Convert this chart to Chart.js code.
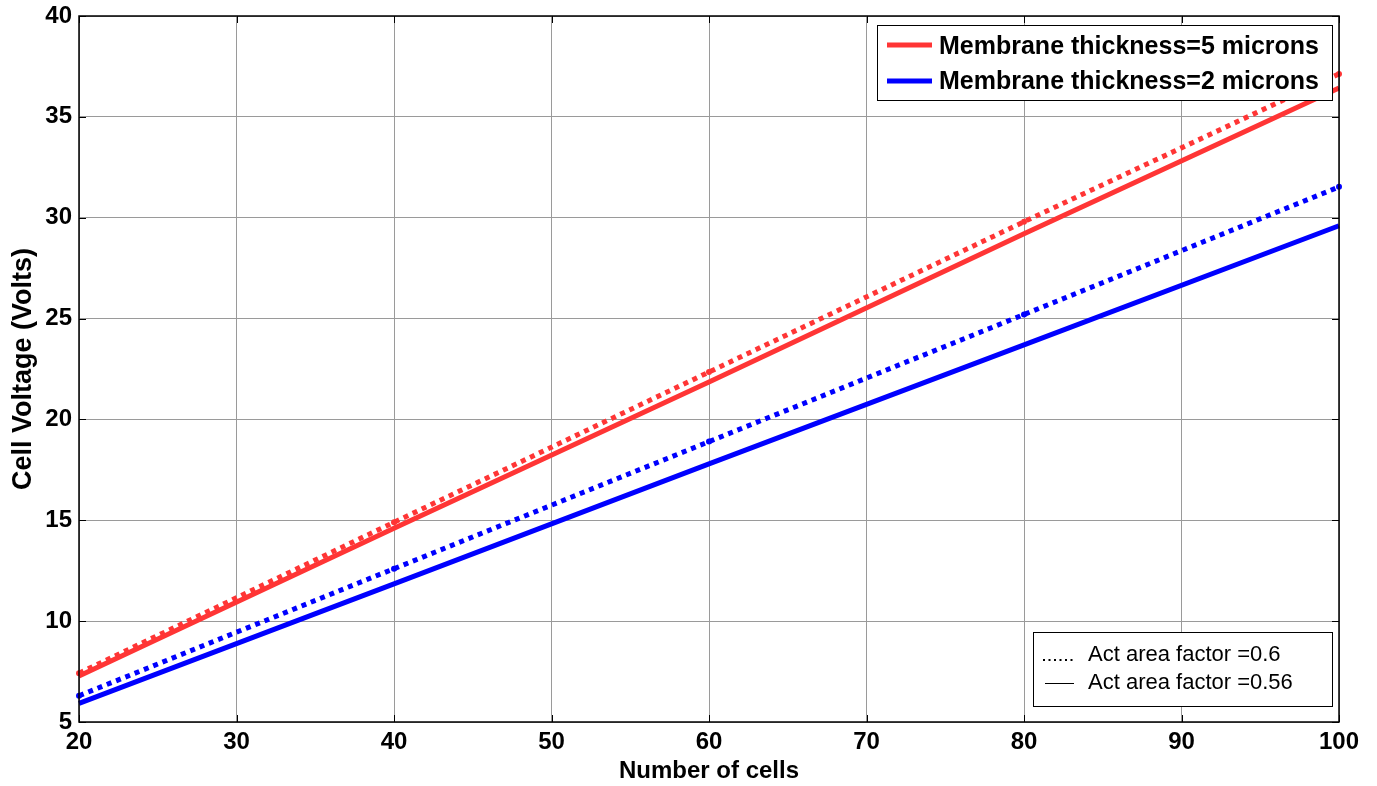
<!DOCTYPE html>
<html>
<head>
  <meta charset="UTF-8">
  <title>Cell Voltage vs Number of cells</title>
  <script src="https://cdn.jsdelivr.net/npm/chart.js"></script>
  <style>
    body {
      margin: 0;
      background: #ffffff;
    }
    #wrap {
      width: 1377px;
      height: 786px;
    }
  </style>
</head>
<body>
  <div id="wrap"><canvas id="voltageChart" width="1377" height="786"></canvas></div>

  <script>
    // number of cells in the stack
    const cells = [20, 40, 60, 80, 100];

    // stack voltage (V) per membrane thickness and active area factor
    const thick5Area060 = [7.42, 14.9, 22.35, 29.8, 37.13];
    const thick5Area056 = [7.28, 14.6, 21.86, 29.2, 36.43];
    const thick2Area060 = [6.3, 12.6, 18.9, 25.2, 31.53];
    const thick2Area056 = [5.92, 11.85, 17.8, 23.7, 29.6];

    const xTicks = [20, 30, 40, 50, 60, 70, 80, 90, 100];
    const yTicks = [5, 10, 15, 20, 25, 30, 35, 40];

    const thicknessLabels = ['Membrane thickness=5 microns', 'Membrane thickness=2 microns'];
    const areaLabels = ['Act area factor =0.6', 'Act area factor =0.56'];

    const RED = '#ff3535';
    const BLUE = '#0000ff';
    const FONT = "'Liberation Sans', Arial, sans-serif";

    function pts(ys) {
      return cells.map((x, i) => ({ x: x, y: ys[i] }));
    }

    function series(ys, color, dotted) {
      return {
        data: pts(ys),
        borderColor: color,
        backgroundColor: color,
        borderWidth: 5,
        borderDash: dotted ? [5, 5] : [],
        borderCapStyle: 'butt',
        pointRadius: dotted ? 3 : 0,
        pointBorderWidth: 0,
        tension: 0,
        clip: false
      };
    }

    // frame, inward ticks and the two legend boxes
    const decorations = {
      id: 'decorations',
      afterDraw(chart) {
        const { ctx, chartArea: a, scales } = chart;
        ctx.save();

        // inward tick marks on all four sides
        ctx.strokeStyle = '#000';
        ctx.lineWidth = 1;
        ctx.beginPath();
        xTicks.forEach(v => {
          const x = Math.round(scales.x.getPixelForValue(v)) + 0.5;
          ctx.moveTo(x, a.bottom); ctx.lineTo(x, a.bottom - 7);
          ctx.moveTo(x, a.top); ctx.lineTo(x, a.top + 7);
        });
        yTicks.forEach(v => {
          const y = Math.round(scales.y.getPixelForValue(v)) + 0.5;
          ctx.moveTo(a.left, y); ctx.lineTo(a.left + 7, y);
          ctx.moveTo(a.right, y); ctx.lineTo(a.right - 7, y);
        });
        ctx.stroke();

        // plot frame
        ctx.lineWidth = 1.5;
        ctx.strokeRect(a.left, a.top, a.right - a.left, a.bottom - a.top);

        // legend: membrane thickness
        ctx.fillStyle = '#fff';
        ctx.fillRect(877, 25, 456, 76);
        ctx.lineWidth = 1;
        ctx.strokeRect(877.5, 25.5, 455, 75);
        ctx.lineWidth = 5;
        ctx.strokeStyle = RED;
        ctx.beginPath(); ctx.moveTo(887, 45); ctx.lineTo(932, 45); ctx.stroke();
        ctx.strokeStyle = BLUE;
        ctx.beginPath(); ctx.moveTo(887, 81); ctx.lineTo(932, 81); ctx.stroke();
        ctx.fillStyle = '#000';
        ctx.font = 'bold 25px ' + FONT;
        ctx.textBaseline = 'middle';
        ctx.textAlign = 'left';
        ctx.fillText(thicknessLabels[0], 939, 47);
        ctx.fillText(thicknessLabels[1], 939, 82);

        // legend: active area factor
        ctx.fillStyle = '#fff';
        ctx.fillRect(1033, 632, 300, 75);
        ctx.strokeStyle = '#000';
        ctx.lineWidth = 1;
        ctx.strokeRect(1033.5, 632.5, 299, 74);
        ctx.fillStyle = '#000';
        for (let i = 0; i < 6; i++) {
          ctx.fillRect(1043 + i * 5.5, 659, 2, 2);
        }
        ctx.beginPath(); ctx.moveTo(1045, 683.5); ctx.lineTo(1074, 683.5); ctx.stroke();
        ctx.font = '22px ' + FONT;
        ctx.fillText(areaLabels[0], 1088, 655);
        ctx.fillText(areaLabels[1], 1088, 683);

        ctx.restore();
      }
    };

    new Chart(document.getElementById('voltageChart'), {
      type: 'line',
      data: {
        datasets: [
          series(thick5Area060, RED, true),
          series(thick5Area056, RED, false),
          series(thick2Area060, BLUE, true),
          series(thick2Area056, BLUE, false)
        ]
      },
      options: {
        responsive: false,
        animation: false,
        layout: { padding: { top: 16, right: 38, left: 0, bottom: 0 } },
        plugins: {
          legend: { display: false },
          tooltip: { enabled: false }
        },
        scales: {
          x: {
            type: 'linear',
            min: 20,
            max: 100,
            afterBuildTicks(scale) { scale.ticks = xTicks.map(v => ({ value: v })); },
            afterFit(scale) {
              scale.height = 64;
              scale.paddingLeft = 0;
              scale.paddingRight = 0;
            },
            grid: { color: '#9a9a9a', lineWidth: 1, drawTicks: false },
            border: { display: false },
            ticks: {
              color: '#000',
              padding: 6,
              maxRotation: 0,
              font: { family: FONT, size: 24, weight: 'bold' }
            },
            title: {
              display: true,
              text: 'Number of cells',
              color: '#000',
              padding: 0,
              font: { family: FONT, size: 24, weight: 'bold' }
            }
          },
          y: {
            min: 5,
            max: 40,
            afterBuildTicks(scale) { scale.ticks = yTicks.map(v => ({ value: v })); },
            afterFit(scale) {
              scale.width = 79;
              scale.paddingTop = 0;
              scale.paddingBottom = 0;
            },
            grid: { color: '#9a9a9a', lineWidth: 1, drawTicks: false },
            border: { display: false },
            ticks: {
              color: '#000',
              padding: 7,
              font: { family: FONT, size: 24, weight: 'bold' }
            },
            title: {
              display: true,
              text: 'Cell Voltage (Volts)',
              color: '#000',
              padding: { top: 7, bottom: 0 },
              font: { family: FONT, size: 27, weight: 'bold' }
            }
          }
        }
      },
      plugins: [decorations]
    });
  </script>
</body>
</html>
